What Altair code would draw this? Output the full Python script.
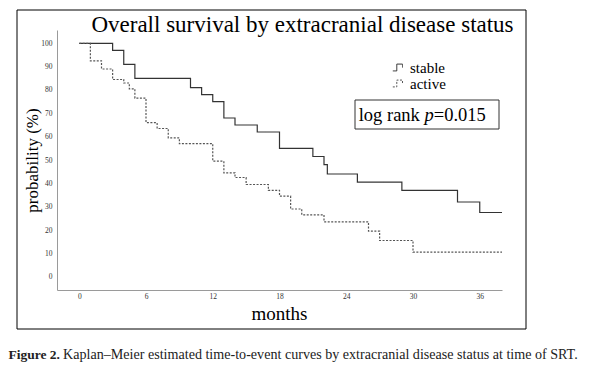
import altair as alt
import pandas as pd

# ---- data ----
stable_t = [0, 3, 4, 5, 10, 11, 12, 13, 14, 16, 18, 21, 22, 22.3, 25, 29, 34, 36, 38]
stable_v = [100, 97, 91, 85, 81, 78, 75, 68, 65, 62, 55, 51.5, 48, 44, 40.5, 37, 32, 27.5, 27.5]
active_t = [0, 1, 2, 3, 4, 4.5, 5, 6, 7, 8, 9, 12, 13, 14, 15, 17, 18, 19, 20, 22, 26, 27, 30, 38]
active_v = [100, 92.5, 89, 84.5, 83, 80.5, 76.5, 66, 63.5, 59.5, 57, 49.5, 44.5, 42.5, 39.5,
            37, 34.5, 29, 26.5, 23.5, 19.5, 15.5, 10.5, 10.5]
groups = ["stable", "active"]
x_ticks = [0, 6, 12, 18, 24, 30, 36]
y_ticks = [0, 10, 20, 30, 40, 50, 60, 70, 80, 90, 100]

title_text = "Overall survival by extracranial disease status"
caption_bold = "Figure 2."
caption_rest = "Kaplan\u2013Meier estimated time-to-event curves by extracranial disease status at time of SRT."

rows = [{"t": t, "v": v, "g": "stable"} for t, v in zip(stable_t, stable_v)] + \
       [{"t": t, "v": v, "g": "active"} for t, v in zip(active_t, active_v)]
df = pd.DataFrame(rows)

FONT = "Liberation Serif"
W, H = 445, 260
one = pd.DataFrame({"k": [0]})
SYM = "M-1,0.6H-0.3V-0.6H0.7V0"

lines = alt.Chart(df).mark_line(interpolate="step-after", strokeWidth=1.2).encode(
    x=alt.X("t:Q", scale=alt.Scale(domain=[-2, 38], nice=False, zero=False),
            axis=alt.Axis(values=x_ticks, title="months", titleX=222, titleY=23,
                          titleBaseline="middle", titleFontSize=19, labelPadding=2)),
    y=alt.Y("v:Q", scale=alt.Scale(domain=[-5.7, 105.7], nice=False, zero=False),
            axis=alt.Axis(values=y_ticks, title="probability (%)", titleX=-25, titleY=130,
                          titleAngle=270, titleAlign="center", titleBaseline="middle",
                          titleFontSize=17, labelPadding=5)),
    color=alt.Color("g:N", scale=alt.Scale(domain=groups, range=["#333333", "#555555"]),
                    legend=alt.Legend(title=None, orient="none", legendX=334, legendY=30,
                                      symbolType=SYM,
                                      symbolSize=130, symbolStrokeWidth=1,
                                      symbolFillColor="transparent",
                                      labelFont=FONT, labelFontSize=15, labelColor="#000",
                                      labelOffset=4, rowPadding=0)),
    strokeDash=alt.StrokeDash("g:N", scale=alt.Scale(domain=groups, range=[[1, 0], [2, 1.5]]),
                              legend=alt.Legend(title=None, orient="none", legendX=334, legendY=30,
                                                symbolType=SYM, symbolSize=130)),
)

border = alt.Chart(one).mark_rect(fill="transparent", stroke="#000", strokeWidth=1).encode(
    x=alt.value(-40), x2=alt.value(469), y=alt.value(-20), y2=alt.value(299))

title = alt.Chart(one).mark_text(text=title_text, font=FONT, fontSize=23, color="#000",
                                 align="center", baseline="alphabetic").encode(
    x=alt.value(245.5), y=alt.value(1.5))

box = alt.Chart(one).mark_rect(fill="#fff", stroke="#333", strokeWidth=1).encode(
    x=alt.value(298), x2=alt.value(442), y=alt.value(70), y2=alt.value(99))

fs = 18.5
t1 = alt.Chart(one).mark_text(text="log rank ", font=FONT, fontSize=fs, color="#000",
                              align="left", baseline="middle").encode(
    x=alt.value(301.7), y=alt.value(85))
t2 = alt.Chart(one).mark_text(text="p", font=FONT, fontSize=fs, fontStyle="italic", color="#000",
                              align="left", baseline="middle").encode(
    x=alt.value(301.7 + 3.555 * fs), y=alt.value(85))
t3 = alt.Chart(one).mark_text(text="=0.015", font=FONT, fontSize=fs, color="#000",
                              align="left", baseline="middle").encode(
    x=alt.value(301.7 + 4.055 * fs), y=alt.value(85))

cap1 = alt.Chart(one).mark_text(text=caption_bold, font=FONT, fontSize=13.5, fontWeight="bold",
                                color="#222", align="left", baseline="middle").encode(
    x=alt.value(-48.5), y=alt.value(324.5))
cap2 = alt.Chart(one).mark_text(text=caption_rest, font=FONT, fontSize=14.1, color="#222",
                                align="left", baseline="middle").encode(
    x=alt.value(6), y=alt.value(324.5))

chart = alt.layer(border, lines, title, box, t1, t2, t3, cap1, cap2).properties(
    width=W, height=H,
    autosize=alt.AutoSizeParams(type="none"),
    padding={"left": 49, "top": 22, "right": 81, "bottom": 80},
).configure_view(stroke=None).configure_axis(
    grid=False, domainColor="#9a9a9a", domainWidth=1, ticks=False,
    labelFont=FONT, labelFontSize=7.5, labelColor="#333",
    titleFont=FONT, titleColor="#000", titleFontWeight="normal",
)

chart.save("out.html", embed_options={"renderer": "svg", "actions": False})
